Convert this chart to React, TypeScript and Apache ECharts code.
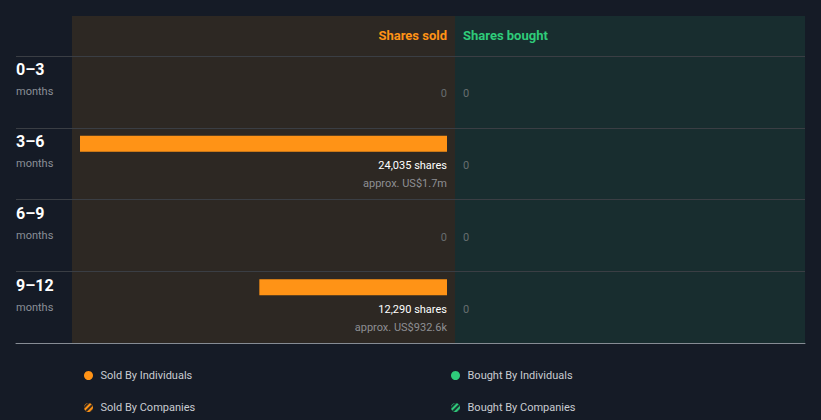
import React, { useEffect, useRef } from "react";
import * as echarts from "echarts";

const periods = ["0–3", "3–6", "6–9", "9–12"];
const periodUnit = "months";
const soldShares = [0, 24035, 0, 12290];
const soldApprox = ["", "approx. US$1.7m", "", "approx. US$932.6k"];
const boughtShares = [0, 0, 0, 0];
const legendSold = ["Sold By Individuals", "Sold By Companies"];
const legendBought = ["Bought By Individuals", "Bought By Companies"];

const ORANGE = "#ff9316";
const GREEN = "#2fcb7a";
const BG = "#151b26";
const FONT = "Roboto, 'Noto Sans', sans-serif";

export default function App() {
  const ref = useRef<HTMLDivElement>(null);
  useEffect(() => {
    if (!ref.current) return;
    const chart = echarts.init(ref.current, undefined, { renderer: "svg" });
    const maxVal = Math.max(...soldShares, ...boughtShares);

    const labelSeries = (data: number[], axisIdx: number, side: "sold" | "bought") => ({
      type: "custom",
      xAxisIndex: axisIdx,
      yAxisIndex: axisIdx,
      encode: { x: 0, y: 1 },
      data: data.map((v, i) => [v, i]),
      z: 5,
      renderItem: (params: any, api: any) => {
        const i = api.value(1);
        const v = api.value(0);
        const pt = api.coord([0, i]);
        const align = side === "sold" ? "right" : "left";
        const children: any[] = [];
        if (v > 0) {
          children.push({
            type: "text",
            x: pt[0],
            y: pt[1] + 22,
            style: {
              text: v.toLocaleString("en-US") + " shares",
              align,
              verticalAlign: "middle",
              fill: "#ffffff",
              font: `11px ${FONT}`,
            },
          });
          const approx = side === "sold" ? soldApprox[i] : "";
          if (approx) {
            children.push({
              type: "text",
              x: pt[0],
              y: pt[1] + 40,
              style: {
                text: approx,
                align,
                verticalAlign: "middle",
                fill: "#8d8f93",
                font: `11px ${FONT}`,
              },
            });
          }
        } else {
          children.push({
            type: "text",
            x: pt[0],
            y: pt[1] + 22,
            style: {
              text: "0",
              align,
              verticalAlign: "middle",
              fill: "#676d70",
              font: `11px ${FONT}`,
            },
          });
        }
        return { type: "group", children };
      },
    });

    const decalSold = {
      symbol: "rect",
      color: "rgba(21,27,38,0.85)",
      dashArrayX: [1, 0],
      dashArrayY: [2, 2],
      rotation: -Math.PI / 4,
    };

    const legendBase = {
      orient: "vertical",
      top: 365,
      itemWidth: 14,
      itemHeight: 9,
      itemGap: 21,
      icon: "circle",
      textStyle: { color: "#c9ccd1", fontSize: 11, fontFamily: FONT },
      selectedMode: false,
    };

    chart.setOption({
      animation: false,
      backgroundColor: BG,
      textStyle: { fontFamily: FONT },
      graphic: [
        { type: "rect", z: -10, silent: true, shape: { x: 72, y: 16, width: 383, height: 327 }, style: { fill: "#2d2823" } },
        { type: "rect", z: -10, silent: true, shape: { x: 455, y: 16, width: 350, height: 327 }, style: { fill: "#182d2f" } },
        { type: "text", z: 10, x: 447, y: 35, style: { text: "Shares sold", align: "right", verticalAlign: "middle", fill: ORANGE, font: `bold 13px ${FONT}` } },
        { type: "text", z: 10, x: 463, y: 35, style: { text: "Shares bought", align: "left", verticalAlign: "middle", fill: GREEN, font: `bold 13px ${FONT}` } },
      ],
      grid: [
        { left: 16, right: 16, top: 56, height: 287 },
        { left: 80, width: 367, top: 36, height: 287 },
        { left: 463, width: 334, top: 36, height: 287 },
      ],
      xAxis: [
        { gridIndex: 0, type: "value", min: 0, max: 1, axisLine: { show: true, lineStyle: { color: "#868c94", width: 1 } }, axisTick: { show: false }, axisLabel: { show: false }, splitLine: { show: false } },
        { gridIndex: 1, type: "value", min: 0, max: maxVal, inverse: true, show: false },
        { gridIndex: 2, type: "value", min: 0, max: maxVal, show: false },
      ],
      yAxis: [
        {
          gridIndex: 0,
          type: "category",
          data: periods,
          inverse: true,
          axisLine: { show: false },
          axisTick: { show: false },
          splitLine: { show: true, lineStyle: { color: "#3a3e44", width: 1 } },
          axisLabel: {
            inside: true,
            margin: 0,
            align: "left",
            verticalAlign: "middle",
            padding: [0, 0, 22, 0],
            formatter: (v: string) => `{a|${v}}\n{b|${periodUnit}}`,
            rich: {
              a: { fontSize: 16, fontWeight: "bold", color: "#ffffff", lineHeight: 22, fontFamily: FONT },
              b: { fontSize: 11, color: "#8a8f97", lineHeight: 22, fontFamily: FONT },
            },
          },
        },
        { gridIndex: 1, type: "category", data: periods, inverse: true, show: false },
        { gridIndex: 2, type: "category", data: periods, inverse: true, show: false },
      ],
      legend: [
        { ...legendBase, data: legendSold, left: 79 },
        { ...legendBase, data: legendBought, left: 446 },
      ],
      series: [
        {
          name: legendSold[0],
          type: "bar",
          xAxisIndex: 1,
          yAxisIndex: 1,
          stack: "sold",
          barWidth: 16,
          data: soldShares,
          itemStyle: { color: ORANGE },
        },
        {
          name: legendSold[1],
          type: "bar",
          xAxisIndex: 1,
          yAxisIndex: 1,
          stack: "sold",
          barWidth: 16,
          data: [],
          itemStyle: { color: ORANGE, decal: decalSold },
        },
        {
          name: legendBought[0],
          type: "bar",
          xAxisIndex: 2,
          yAxisIndex: 2,
          stack: "bought",
          barWidth: 16,
          data: boughtShares,
          itemStyle: { color: GREEN },
        },
        {
          name: legendBought[1],
          type: "bar",
          xAxisIndex: 2,
          yAxisIndex: 2,
          stack: "bought",
          barWidth: 16,
          data: [],
          itemStyle: { color: GREEN, decal: decalSold },
        },
        labelSeries(soldShares, 1, "sold"),
        labelSeries(boughtShares, 2, "bought"),
      ],
    });
    return () => chart.dispose();
  }, []);
  return <div ref={ref} style={{ width: 821, height: 420, position: "absolute", left: 0, top: 0 }} />;
}
